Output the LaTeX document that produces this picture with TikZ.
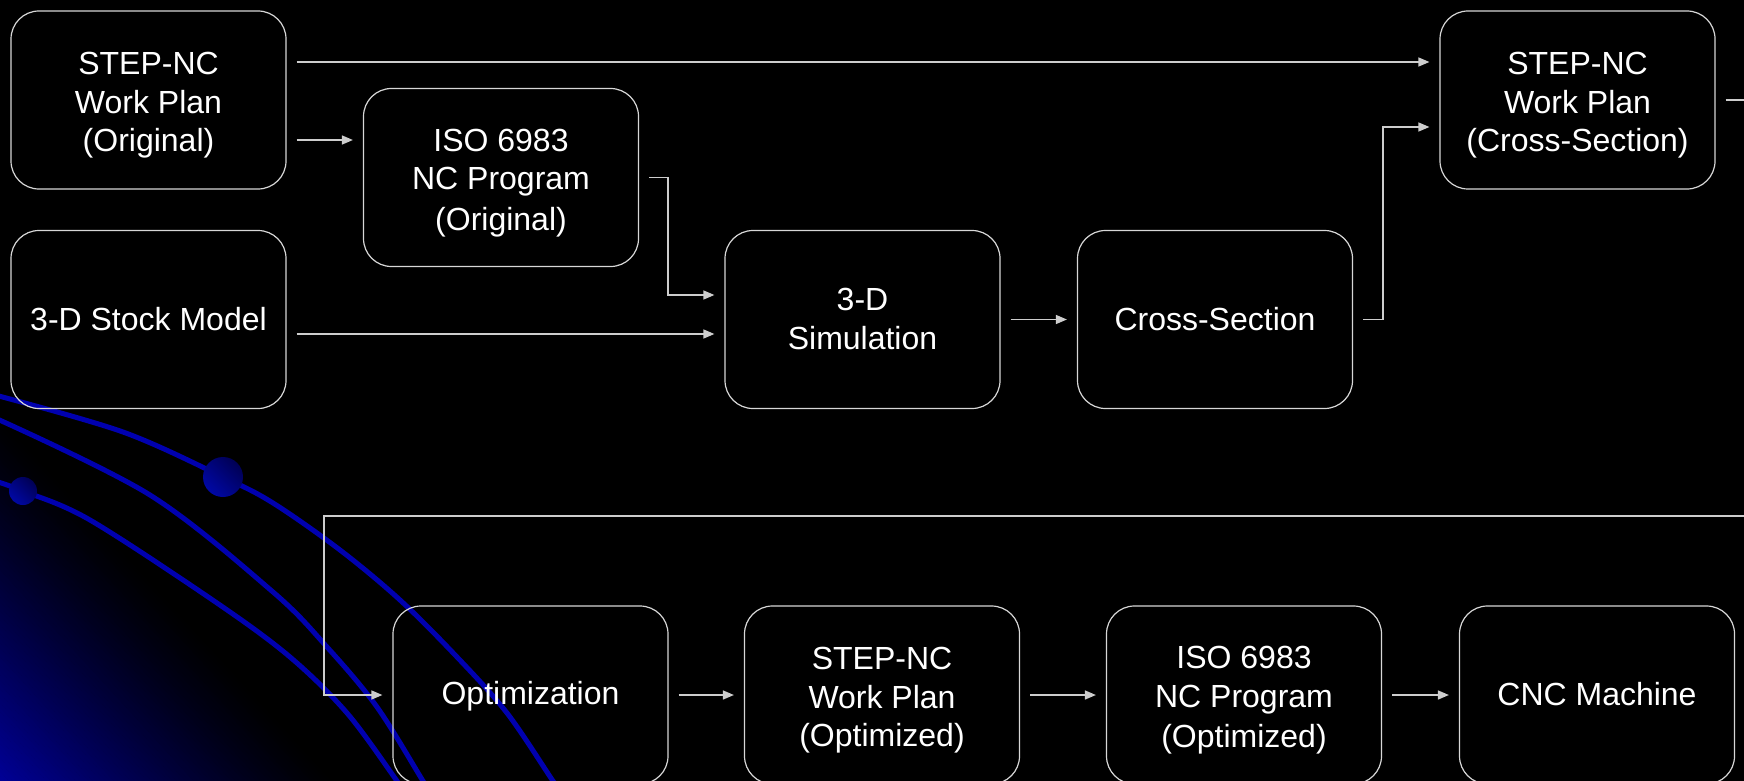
\documentclass[tikz,border=0pt]{standalone}
\usepackage{fontspec}
\setmainfont{Liberation Sans}
\usetikzlibrary{arrows.meta,calc}
\definecolor{bgblue}{RGB}{0,0,150}
\definecolor{curveblue}{RGB}{0,0,175}
\definecolor{balllight}{RGB}{0,8,165}
\definecolor{balldark}{RGB}{0,0,85}
\definecolor{edge}{RGB}{215,215,215}
\definecolor{wire}{RGB}{205,205,205}
\newcommand{\myst}{\rule[-2pt]{0pt}{35pt}}
\newcommand{\mystb}{\rule[-5.5pt]{0pt}{32pt}}
\tikzset{
 box/.style={draw=edge, line width=1.2pt, rounded corners=28pt, minimum width=275pt, minimum height=178pt, inner sep=0pt, align=center, text=white, font=\fontsize{32}{38.5}\selectfont},
 conn/.style={draw=wire, line width=1.5pt, shorten <=10pt, shorten >=10pt, -{Triangle[length=11pt,width=9pt]}},
 decoline/.style={curveblue, line width=5pt, line cap=round},
}
\begin{document}
\begin{tikzpicture}[x=1pt,y=-1pt]
\useasboundingbox (0,0) rectangle (1744,781);
\clip (0,0) rectangle (1744,781);
\fill[black] (0,0) rectangle (1744,781);
% corner gradient
\begin{scope}[x=1pt,y=1pt,shift={(0pt,-781pt)},rotate=42.5]
  \foreach \i in {0,...,79}{
    \pgfmathsetmacro{\xa}{\i*3.1}
    \pgfmathsetmacro{\xb}{\xa+3.6}
    \pgfmathsetmacro{\pc}{100*(1-(\i+0.5)/80)^1.25}
    \fill[bgblue!\pc!black] (\xa,-900) rectangle (\xb,900);
  }
\end{scope}
% decorative curves
\draw[decoline] plot[smooth, tension=0.55] coordinates {(-5,395) (123,432) (223,477) (273,503) (340,550) (400,600) (457,657) (507,713) (553,781) (570,805)};
\draw[decoline] plot[smooth, tension=0.55] coordinates {(-5,418) (150,495) (273,592) (327,647) (377,707) (423,781) (438,805)};
\draw[decoline] plot[smooth, tension=0.55] coordinates {(-5,481) (23,491) (90,520) (217,603) (290,657) (347,713) (397,781) (410,800)};
\shade[top color=balldark, bottom color=balllight, shading angle=-45] (223,477) circle[radius=20pt];
\shade[top color=balldark, bottom color=balllight, shading angle=-45] (23,491) circle[radius=14pt];
% boxes
\node[box] (wpo) at (148.5,100) {\myst STEP-NC\\Work Plan\\(Original)\myst};
\node[box] (iso) at (501,177.5) {\myst ISO 6983\\NC Program\\(Original)\myst};
\node[box] (stock) at (148.5,319.5) {\mystb 3-D Stock Model\mystb};
\node[box] (sim) at (862.5,319.5) {\mystb 3-D\\Simulation\mystb};
\node[box] (cs) at (1215,319.5) {\mystb Cross-Section\mystb};
\node[box] (wpcs) at (1577.5,100) {\myst STEP-NC\\Work Plan\\(Cross-Section)\myst};
\node[box] (opt) at (530.5,695) {\mystb Optimization\mystb};
\node[box] (wpopt) at (882,695) {\myst STEP-NC\\Work Plan\\(Optimized)\myst};
\node[box] (isoopt) at (1244,695) {\myst ISO 6983\\NC Program\\(Optimized)\myst};
\node[box] (cnc) at (1597,695) {\mystb CNC Machine\mystb};
% connectors
\draw[conn] ([yshift=38pt]wpo.east) -- ([yshift=38pt]wpcs.west);
\coordinate (a1) at ([yshift=-40pt]wpo.east);
\draw[conn] (a1) -- (a1 -| iso.west);
\draw[conn] (iso.east) -- ++(29pt,0pt) |- ([yshift=24.5pt]sim.west);
\coordinate (a2) at ([yshift=-14.5pt]stock.east);
\draw[conn] (a2) -- (a2 -| sim.west);
\draw[conn] (sim.east) -- (cs.west);
\draw[conn] (cs.east) -- ++(30pt,0pt) |- ([yshift=-27pt]wpcs.west);
\coordinate (loopR) at (1790,516);
\coordinate (loopL) at (324,516);
\draw[conn] (wpcs.east) -| (loopR) -- (loopL) |- (opt.west);
\draw[conn] (opt.east) -- (wpopt.west);
\draw[conn] (wpopt.east) -- (isoopt.west);
\draw[conn] (isoopt.east) -- (cnc.west);
\end{tikzpicture}
\end{document}
